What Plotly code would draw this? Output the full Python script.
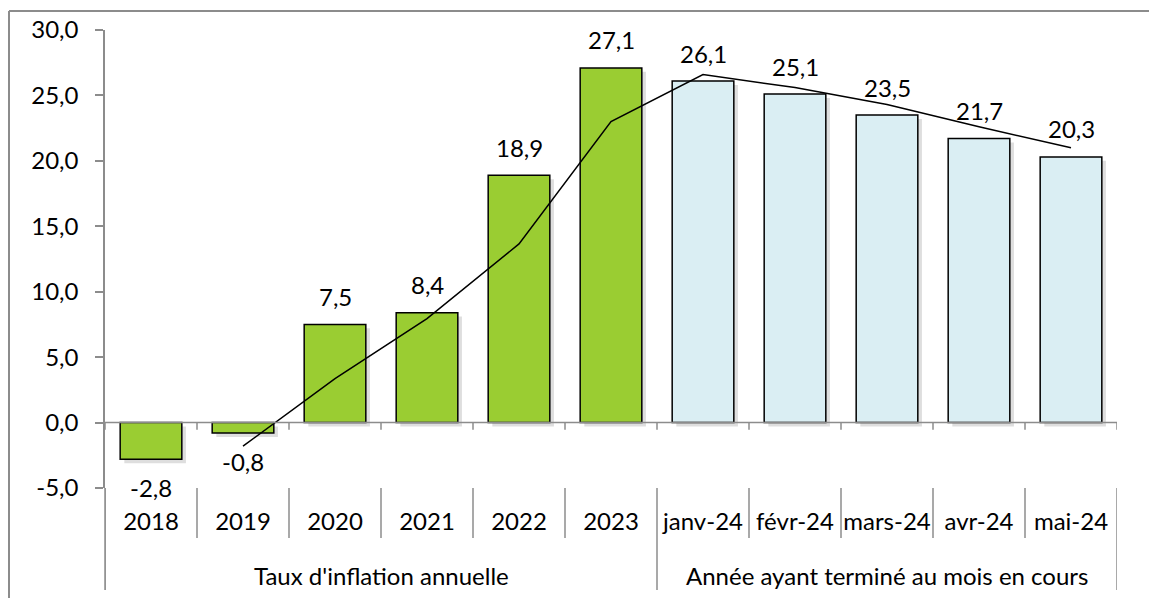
import plotly.graph_objects as go

categories = ["2018", "2019", "2020", "2021", "2022", "2023",
              "janv-24", "févr-24", "mars-24", "avr-24", "mai-24"]
inflation = [-2.8, -0.8, 7.5, 8.4, 18.9, 27.1, 26.1, 25.1, 23.5, 21.7, 20.3]
trend = [None, -1.8, 3.35, 7.95, 13.65, 23.0, 26.6, 25.6, 24.3, 22.6, 21.0]
groups = [("Taux d'inflation annuelle", 0, 5),
          ("Année ayant terminé au mois en cours", 6, 10)]
y_ticks = [-5, 0, 5, 10, 15, 20, 25, 30]
y_ticktext = ["-5,0", "0,0", "5,0", "10,0", "15,0", "20,0", "25,0", "30,0"]

GREEN = "#9ACD32"
BLUE = "#DAEEF3"
GRAY = "#8C8C8C"
FONT = "Lato"
FS = 24

bar_colors = [GREEN] * 6 + [BLUE] * 5
idx = list(range(len(categories)))

fig = go.Figure()

# soft shadow behind the bars
fig.add_trace(go.Bar(
    x=idx, y=inflation, base=-0.3,
    width=0.67, offset=-0.335 + 0.045,
    marker=dict(color="rgba(0,0,0,0.13)", line=dict(width=0)),
    hoverinfo="skip", showlegend=False,
))
fig.add_trace(go.Bar(
    x=idx, y=inflation,
    width=0.67, offset=-0.335,
    marker=dict(color=bar_colors, line=dict(color="black", width=1.5)),
    showlegend=False,
))
fig.add_trace(go.Scatter(
    x=idx, y=trend, mode="lines",
    line=dict(color="black", width=1.5),
    showlegend=False,
))

# value labels
for i, v in enumerate(inflation):
    fig.add_annotation(
        x=i, y=v, text=f"{v:.1f}".replace(".", ","),
        showarrow=False, yanchor="middle",
        yshift=28 if v >= 0 else -28,
        font=dict(family=FONT, size=FS, color="black"),
    )

shapes = []
H = 458.0  # plot height px
def py(px):
    return -px / H

# separators between category labels + ticks on the zero line
for i in range(len(categories) + 1):
    b = i - 0.5
    is_group_edge = b in (-0.5, 5.5, 10.5)
    shapes.append(dict(type="line", xref="x", yref="paper",
                       x0=b, x1=b, y0=0, y1=py(102 if is_group_edge else 50),
                       line=dict(color=GRAY, width=1.5)))
    shapes.append(dict(type="line", xref="x", yref="y",
                       x0=b, x1=b, y0=0, y1=-0.55,
                       line=dict(color=GRAY, width=1.5)))

# zero axis line
shapes.append(dict(type="line", xref="x", yref="y", x0=-0.5, x1=10.5,
                   y0=0, y1=0, line=dict(color=GRAY, width=1.5)))
# chart area border (top and left)
shapes.append(dict(type="line", xref="paper", yref="paper",
                   x0=-96 / 1012, x1=1.1, y0=1 + 19 / H, y1=1 + 19 / H,
                   line=dict(color=GRAY, width=2)))
shapes.append(dict(type="line", xref="paper", yref="paper",
                   x0=-96 / 1012, x1=-96 / 1012, y0=1 + 19 / H, y1=py(120),
                   line=dict(color=GRAY, width=2)))
# y axis line continues down through the label rows
shapes.append(dict(type="line", xref="paper", yref="paper",
                   x0=0, x1=0, y0=0, y1=py(102),
                   line=dict(color=GRAY, width=1.5)))

for name, a, b in groups:
    fig.add_annotation(
        x=(a + b) / 2, xref="x", y=py(87), yref="paper",
        text=name, showarrow=False, yanchor="middle",
        font=dict(family=FONT, size=FS, color="black"),
    )

fig.update_layout(
    width=1149, height=598,
    margin=dict(l=105, r=32, t=30, b=110),
    paper_bgcolor="white", plot_bgcolor="white",
    barmode="overlay",
    shapes=shapes,
    font=dict(family=FONT, size=FS, color="black"),
)
fig.update_xaxes(
    tickmode="array", tickvals=idx, ticktext=categories,
    range=[-0.5, 10.5], showgrid=False, zeroline=False, showline=False,
    ticks="outside", ticklen=12, tickcolor="rgba(0,0,0,0)",
    tickfont=dict(family=FONT, size=FS, color="black"),
)
fig.update_yaxes(
    range=[-5, 30], tickmode="array", tickvals=y_ticks, ticktext=y_ticktext,
    showgrid=False, zeroline=False,
    showline=True, linecolor=GRAY, linewidth=1.5,
    ticks="outside", ticklen=8, tickcolor=GRAY, tickwidth=1.5,
    ticklabelstandoff=12,
    tickfont=dict(family=FONT, size=FS, color="black"),
)

# drop the default page margin so the figure fills the window exactly
fig.write_html(
    "out.html",
    config={"displayModeBar": False},
    post_script="document.body.style.margin='0';document.body.style.overflow='hidden';",
)
